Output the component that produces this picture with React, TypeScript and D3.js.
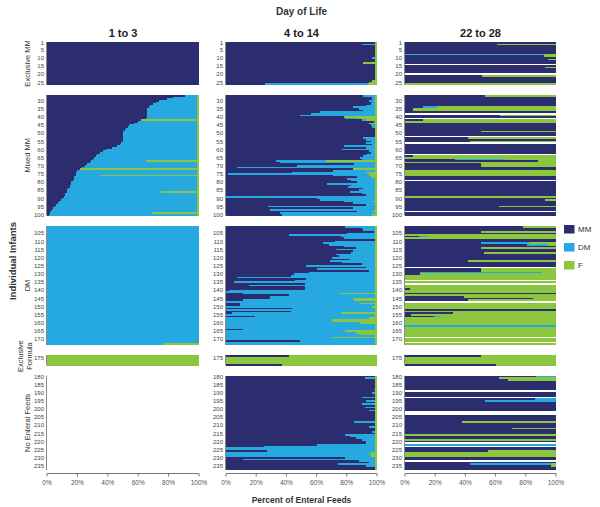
import React from "react";
import * as d3 from "d3";

// Each run: [number of consecutive infants, % mother's milk, % donor milk, % formula]
// A run whose MM value is -1 means no enteral feeds were recorded (blank row).
type Run = [number, number, number, number];

const columns = ["1 to 3", "4 to 14", "22 to 28"];
const groupNames = ["Exclusive MM", "Mixed MM", "DM", "Exclusive|Formula", "No Enteral Feeds"];
const groupFirstId = [1, 27, 101, 174, 180];
const groupLastId = [26, 100, 173, 179, 237];
const feedTypes = ["MM", "DM", "F"];
const xTicks = [0, 20, 40, 60, 80, 100];

const day1to3: Run[] = [
  // Exclusive MM
  [26, 100, 0, 0],
  // Mixed MM
  [1, 91, 8, 1], [1, 83, 16, 1], [1, 79, 20, 1], [1, 74, 25, 1], [1, 72, 27, 1], [1, 70, 29, 1],
  [1, 68, 31, 1], [1, 67, 32, 1], [6, 66, 33, 1], [1, 65, 34, 1], [1, 62, 0, 38], [1, 60, 39, 1],
  [1, 57, 42, 1], [1, 54, 45, 1], [1, 53, 46, 1], [1, 52, 47, 1], [1, 51, 48, 1], [7, 50, 49, 1],
  [1, 49, 50, 1], [1, 48, 51, 1], [1, 46, 53, 1], [1, 43, 56, 1], [1, 39, 60, 1], [1, 37, 62, 1],
  [1, 35, 64, 1], [1, 33, 66, 1], [1, 32, 67, 1], [1, 31, 68, 1], [1, 30, 69, 1], [1, 29, 36, 35],
  [1, 28, 71, 1], [1, 26, 73, 1], [1, 25, 74, 1], [1, 23, 76, 1], [1, 22, 0, 78], [1, 20, 79, 1],
  [2, 19, 80, 1], [1, 19, 16, 65], [2, 18, 81, 1], [1, 17, 82, 1], [2, 16, 83, 1], [2, 15, 84, 1],
  [1, 14, 85, 1], [1, 13, 86, 1], [1, 13, 62, 25], [2, 12, 87, 1], [1, 11, 88, 1], [1, 10, 89, 1],
  [1, 9, 90, 1], [1, 8, 91, 1], [1, 7, 92, 1], [1, 6, 93, 1], [1, 5, 94, 1], [1, 4, 95, 1],
  [1, 3, 96, 1], [1, 2, 97, 1], [1, 2, 67, 31], [1, 1, 98, 1],
  // DM
  [72, 0, 100, 0], [1, 0, 76, 24],
  // Exclusive Formula
  [6, 0, 0, 100],
  // No Enteral Feeds
  [58, -1, 0, 0],
];

const day4to14: Run[] = [
  // Exclusive MM
  [1, 99, 0, 1], [1, 90, 9, 1], [7, 99, 0, 1], [1, 97, 2, 1], [2, 99, 0, 1], [1, 91, 0, 9],
  [10, 99, 0, 1], [1, 97, 0, 3], [1, 95, 0, 5], [1, 26, 68, 6],
  // Mixed MM
  [1, 91, 8, 1], [1, 97, 2, 1], [1, 97, 2, 1], [1, 95, 4, 1], [1, 97, 2, 1], [1, 96, 3, 1],
  [1, 93, 6, 1], [1, 84, 15, 1], [1, 88, 11, 1], [1, 91, 8, 1], [1, 62, 37, 1], [1, 56, 43, 1],
  [1, 49, 50, 1], [1, 78, 0, 22], [1, 79, 8, 13], [1, 90, 3, 7], [1, 98, 1, 1], [1, 95, 0, 5],
  [1, 96, 3, 1], [1, 97, 2, 1], [6, 99, 0, 1], [1, 91, 8, 1], [1, 93, 6, 1], [1, 96, 3, 1],
  [1, 93, 6, 1], [1, 97, 2, 1], [1, 78, 21, 1], [1, 93, 6, 1], [1, 77, 22, 1], [1, 95, 4, 1],
  [1, 96, 3, 1], [1, 93, 6, 1], [1, 91, 8, 1], [1, 89, 10, 1], [1, 90, 9, 1], [1, 33, 33, 34],
  [1, 36, 63, 1], [1, 85, 14, 1], [1, 47, 52, 1], [1, 7, 92, 1], [1, 84, 0, 16], [1, 71, 28, 1],
  [1, 44, 49, 7], [1, 1, 94, 5], [1, 71, 24, 5], [1, 87, 9, 4], [1, 80, 19, 1], [1, 83, 16, 1],
  [1, 87, 12, 1], [1, 67, 32, 1], [1, 83, 16, 1], [1, 81, 18, 1], [1, 91, 8, 1], [1, 88, 11, 1],
  [1, 82, 17, 1], [1, 90, 9, 1], [1, 93, 6, 1], [1, 0, 99, 1], [1, 60, 39, 1], [1, 62, 37, 1],
  [1, 78, 19, 3], [1, 84, 15, 1], [1, 93, 6, 1], [1, 28, 71, 1], [1, 84, 15, 1], [1, 29, 70, 1],
  [1, 87, 10, 3], [1, 36, 63, 1], [1, 37, 60, 3],
  // DM
  [1, 79, 20, 1], [1, 90, 9, 1], [1, 91, 8, 1], [1, 98, 1, 1], [1, 80, 19, 1], [1, 42, 57, 1],
  [1, 76, 23, 1], [1, 78, 21, 1], [1, 99, 0, 1], [1, 72, 27, 1], [1, 64, 35, 1], [1, 68, 31, 1],
  [1, 78, 21, 1], [1, 86, 13, 1], [1, 73, 26, 1], [1, 84, 15, 1], [1, 83, 16, 1], [1, 73, 26, 1],
  [1, 75, 24, 1], [1, 70, 29, 1], [1, 82, 17, 1], [1, 69, 30, 1], [1, 77, 22, 1], [1, 90, 9, 1],
  [1, 53, 46, 1], [1, 93, 6, 1], [1, 60, 39, 1], [1, 95, 4, 1], [1, 55, 44, 1], [1, 45, 54, 1],
  [1, 43, 56, 1], [1, 7, 92, 1], [1, 53, 46, 1], [1, 46, 53, 1], [1, 5, 94, 1], [1, 52, 47, 1],
  [1, 15, 83, 2], [1, 52, 47, 1], [1, 52, 47, 1], [1, 2, 97, 1], [1, 0, 99, 1], [1, 11, 64, 25],
  [1, 42, 57, 1], [1, 29, 70, 1], [1, 29, 55, 16], [1, 11, 74, 15], [1, 0, 99, 1], [1, 9, 80, 11],
  [1, 9, 90, 1], [1, 0, 97, 3], [1, 44, 55, 1], [1, 0, 99, 1], [1, 43, 56, 1], [1, 4, 72, 24],
  [1, 0, 99, 1], [1, 19, 80, 1], [1, 0, 95, 5], [1, 0, 70, 30], [1, 0, 70, 30], [1, 0, 89, 11],
  [3, 0, 99, 1], [1, 11, 88, 1], [1, 0, 79, 21], [1, 0, 86, 14], [1, 0, 89, 11], [1, 0, 99, 1],
  [1, 0, 70, 30], [1, 0, 99, 1], [1, 49, 50, 1], [2, 0, 99, 1],
  // Exclusive Formula
  [1, 42, 0, 58], [4, 0, 0, 100], [1, 37, 0, 63],
  // No Enteral Feeds
  [1, 99, 0, 1], [1, 92, 7, 1], [6, 99, 0, 1], [1, 98, 1, 1], [1, 99, 0, 1], [1, 97, 2, 1],
  [2, 99, 0, 1], [1, 90, 9, 1], [1, 99, 0, 1], [1, 93, 6, 1], [1, 99, 0, 1], [1, 90, 8, 2],
  [1, 99, 0, 1], [1, 92, 7, 1], [1, 99, 0, 1], [1, 95, 4, 1], [6, 99, 0, 1], [1, 85, 14, 1],
  [2, 99, 0, 1], [1, 95, 4, 1], [2, 99, 0, 1], [1, 97, 2, 1], [1, 99, 0, 1], [1, 79, 20, 1],
  [1, 82, 17, 1], [1, 86, 13, 1], [1, 90, 9, 1], [1, 93, 6, 1], [1, 93, 6, 1], [1, 60, 39, 1],
  [1, 25, 74, 1], [2, 0, 99, 1], [1, 27, 72, 1], [1, 0, 96, 4], [1, 0, 95, 5], [1, 0, 96, 4],
  [1, 79, 20, 1], [1, 11, 88, 1], [1, 88, 11, 1], [1, 95, 4, 1], [1, 74, 25, 1], [1, 93, 6, 1],
  [2, 99, 0, 1],
];

const day22to28: Run[] = [
  // Exclusive MM
  [1, 100, 0, 0], [1, 61, 0, 39], [5, 100, 0, 0], [1, 0, 92, 8], [1, 92, 0, 8], [1, 100, 0, 0],
  [1, 95, 0, 5], [2, 100, 0, 0], [1, -1, 0, 0], [1, 100, 0, 0], [1, 93, 0, 7], [3, 100, 0, 0],
  [1, -1, 0, 0], [1, 51, 0, 49], [4, 100, 0, 0], [1, 0, 0, 100],
  // Mixed MM
  [1, 53, 0, 47], [6, 100, 0, 0], [1, 12, 9, 79], [1, 5, 0, 95], [1, 5, 0, 95], [1, 100, 0, 0],
  [1, -1, 0, 0], [1, 63, 0, 37], [1, 100, 0, 0], [1, -1, 0, 0], [1, 12, 0, 88], [1, 0, 0, 100],
  [5, 100, 0, 0], [1, 50, 0, 50], [2, 100, 0, 0], [1, -1, 0, 0], [1, 42, 0, 58], [1, 100, 0, 0],
  [1, 43, 0, 57], [1, -1, 0, 0], [6, 100, 0, 0], [1, -1, 0, 0], [1, 5, 0, 95], [1, 0, 0, 100],
  [1, 33, 33, 34], [1, 88, 0, 12], [1, 0, 0, 100], [1, 50, 0, 50], [1, 50, 0, 50], [2, 100, 0, 0],
  [4, 0, 0, 100], [2, 100, 0, 0], [1, -1, 0, 0], [9, 100, 0, 0], [1, 0, 0, 100], [1, 100, 0, 0],
  [1, 93, 0, 7], [3, 100, 0, 0], [1, 62, 0, 38], [2, 100, 0, 0], [1, -1, 0, 0], [2, 100, 0, 0],
  // DM
  [1, 78, 0, 22], [2, 100, 0, 0], [1, 50, 0, 50], [1, 100, 0, 0], [1, 0, 0, 100], [1, 9, 6, 85],
  [1, 0, 0, 100], [2, 100, 0, 0], [1, 50, 32, 18], [1, 81, 14, 5], [1, 100, 0, 0], [1, 50, 0, 50],
  [2, 100, 0, 0], [1, 52, 0, 48], [4, 100, 0, 0], [1, 42, 0, 58], [3, 100, 0, 0], [1, -1, 0, 0],
  [1, 50, 0, 50], [1, 50, 0, 50], [1, 10, 81, 9], [1, 10, 0, 90], [3, 0, 0, 100], [1, -1, 0, 0],
  [1, 0, 0, 100], [1, -1, 0, 0], [2, 0, 0, 100], [1, 3, 0, 97], [2, 0, 0, 100], [1, 100, 0, 0],
  [1, 0, 0, 100], [1, 39, 0, 61], [1, 85, 0, 15], [1, 42, 0, 58], [1, -1, 0, 0], [4, 0, 0, 100],
  [1, 100, 0, 0], [1, 0, 0, 100], [1, 32, 0, 68], [1, 4, 0, 96], [1, 19, 5, 76], [5, 0, 0, 100],
  [1, 0, 100, 0], [6, 0, 0, 100], [1, -1, 0, 0], [2, 0, 0, 100], [1, -1, 0, 0], [1, 0, 0, 100],
  // Exclusive Formula
  [1, 50, 0, 50], [4, 0, 0, 100], [1, 60, 0, 40],
  // No Enteral Feeds
  [1, 87, 13, 0], [1, 62, 0, 38], [1, 68, 0, 32], [6, 100, 0, 0], [1, -1, 0, 0], [3, 100, 0, 0],
  [1, -1, 0, 0], [1, 86, 14, 0], [1, 53, 47, 0], [6, 100, 0, 0], [2, -1, 0, 0], [4, 100, 0, 0],
  [1, 38, 0, 62], [3, 100, 0, 0], [1, 71, 0, 29], [3, 100, 0, 0], [1, 0, 0, 100], [2, 100, 0, 0],
  [1, 0, 0, 100], [1, 100, 0, 0], [1, -1, 0, 0], [1, 0, 100, 0], [1, -1, 0, 0], [2, 100, 0, 0],
  [1, 55, 0, 45], [3, 0, 0, 100], [2, 100, 0, 0], [1, -1, 0, 0], [1, 100, 0, 0], [1, 43, 54, 3],
  [1, 97, 0, 3], [2, 100, 0, 0],
];

const panelData: Run[][] = [day1to3, day4to14, day22to28];

// ---------- layout ----------
const W = 600;
const H = 507;
const panelX: [number, number][] = [[47, 199], [226, 377], [405, 556]];
const groupY: [number, number][] = [[42, 85], [95, 215.5], [226, 345], [354.7, 365.5], [375.7, 470]];
const axisY = 473.5;
const colors = d3.scaleOrdinal<string, string>().domain(feedTypes).range(["#2b2d6e", "#26a9e0", "#8cc63f"]);
const FONT = "'Liberation Sans', Arial, Helvetica, sans-serif";

type Row = { id: number; mm: number; dm: number; f: number };

function expand(runs: Run[]): Row[] {
  const rows: Row[] = [];
  let id = 1;
  runs.forEach(([n, mm, dm, f]) => {
    for (let i = 0; i < n; i++) rows.push({ id: id++, mm, dm, f });
  });
  return rows;
}

export default function App() {
  const panels = panelData.map(expand);
  const groups = groupNames.map((name, g) => {
    const ids = d3.range(groupFirstId[g], groupLastId[g] + 1);
    const y = d3.scaleBand<number>().domain(ids).range(groupY[g]).paddingInner(0).paddingOuter(0);
    return { name, ids, y };
  });

  return (
    <div style={{ position: "fixed", left: 0, top: 0, width: W, height: H, background: "#fff" }}>
      <svg width={W} height={H} style={{ display: "block" }} fontFamily={FONT}>
        <rect width={W} height={H} fill="#fff" />
        <text x={301.5} y={15} textAnchor="middle" fontSize={10} fontWeight="bold" fill="#333">Day of Life</text>

        {panels.map((rows, p) => {
          const x = d3.scaleLinear().domain([0, 100]).range(panelX[p]);
          return (
            <g key={p}>
              <text x={(panelX[p][0] + panelX[p][1]) / 2} y={37} textAnchor="middle" fontSize={11} fontWeight="bold" fill="#222">
                {columns[p]}
              </text>
              {groups.map((grp, g) => {
                const bw = grp.y.bandwidth();
                return (
                  <g key={g}>
                    <line x1={x(0) - 0.5} x2={x(0) - 0.5} y1={groupY[g][0]} y2={groupY[g][1]} stroke="#8a8a8a" strokeWidth={1} />
                    <g shapeRendering="crispEdges">
                      {rows
                        .filter((r) => r.id >= groupFirstId[g] && r.id <= groupLastId[g] && r.mm >= 0)
                        .map((r) => {
                          const segs = [r.mm, r.dm, r.f];
                          let acc = 0;
                          return segs.map((v, s) => {
                            const x0 = acc;
                            acc += v;
                            if (v <= 0) return null;
                            return (
                              <rect
                                key={`${r.id}-${s}`}
                                x={x(x0)}
                                width={x(acc) - x(x0)}
                                y={grp.y(r.id)!}
                                height={bw}
                                fill={colors(feedTypes[s])}
                              />
                            );
                          });
                        })}
                    </g>
                    {grp.ids
                      .filter((id) => id === 1 || id % 5 === 0)
                      .map((id) => (
                        <text key={id} x={x(0) - 3} y={grp.y(id)! + bw / 2} dy="0.35em" textAnchor="end" fontSize={6} fill="#444">
                          {id}
                        </text>
                      ))}
                  </g>
                );
              })}
              {/* x axis */}
              <line x1={x(0)} x2={x(100)} y1={axisY} y2={axisY} stroke="#777" strokeWidth={1} />
              {xTicks.map((t) => (
                <g key={t}>
                  <line x1={x(t)} x2={x(t)} y1={axisY} y2={axisY + 3} stroke="#777" />
                  <text x={x(t)} y={485} textAnchor="middle" fontSize={6.5} fill="#555">{t + "%"}</text>
                </g>
              ))}
            </g>
          );
        })}

        {/* group labels */}
        {groups.map((grp, g) => {
          const cy = (groupY[g][0] + groupY[g][1]) / 2;
          const lines = grp.name.split("|");
          if (lines.length === 1) {
            return (
              <text key={g} transform={`translate(27,${cy}) rotate(-90)`} textAnchor="middle" dy="0.35em" fontSize={7.5} fill="#333">
                {grp.name}
              </text>
            );
          }
          return (
            <text key={g} transform={`translate(24.5,${cy - 4}) rotate(-90)`} textAnchor="middle" fontSize={7.5} fill="#333">
              {lines.map((l, i) => (
                <tspan key={i} x={0} dy={i === 0 ? "-0.25em" : "1.2em"}>{l}</tspan>
              ))}
            </text>
          );
        })}

        <text transform="translate(13,261) rotate(-90)" textAnchor="middle" dy="0.35em" fontSize={9.5} fontWeight="bold" fill="#333">
          Individual Infants
        </text>
        <text x={301.5} y={503} textAnchor="middle" fontSize={8.5} fontWeight="bold" fill="#333">Percent of Enteral Feeds</text>

        {/* legend */}
        {feedTypes.map((t, i) => (
          <g key={t} transform={`translate(564,${225 + i * 18})`}>
            <rect width={10.5} height={8.5} fill={colors(t)} />
            <text x={14} y={4.5} dy="0.35em" fontSize={8} fill="#333">{t}</text>
          </g>
        ))}
      </svg>
    </div>
  );
}
